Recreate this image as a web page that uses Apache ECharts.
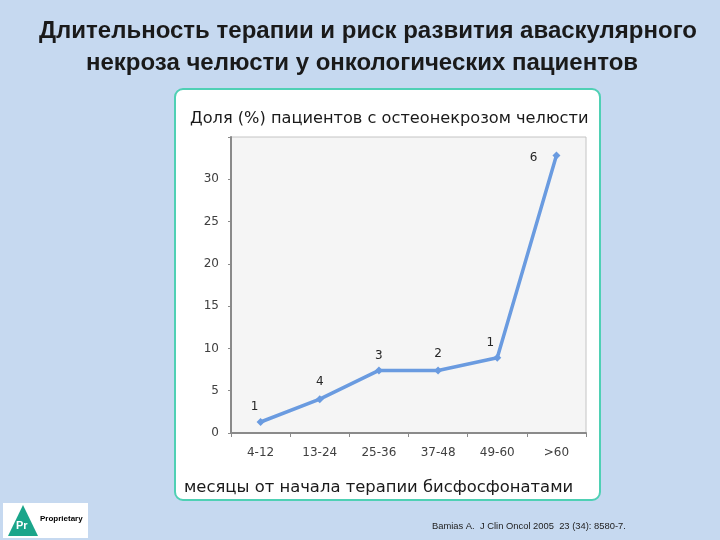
<!DOCTYPE html>
<html><head><meta charset="utf-8">
<script src="https://cdn.jsdelivr.net/npm/echarts@6/dist/echarts.min.js"></script>
<style>html,body{margin:0;padding:0;background:#c6d9f0;}#c{width:720px;height:540px;}</style>
</head><body><div id="c"></div>
<script>
const categories = ['4-12', '13-24', '25-36', '37-48', '49-60', '>60'];
const percentValues = [1.3, 4.0, 7.4, 7.4, 8.9, 32.8];
const patientCounts = ['1', '4', '3', '2', '1', '6'];
const yTicks = [0, 5, 10, 15, 20, 25, 30];

const chart = echarts.init(document.getElementById('c'));
const labelStyle = [
  {position: 'top', offset: [-6, 0]},
  {position: 'top', offset: [0, -2]},
  {position: 'top', offset: [0, 0]},
  {position: 'top', offset: [0, -2]},
  {position: 'top', offset: [-7, 0]},
  {position: 'left', offset: [-10, 2]}
];
const seriesData = percentValues.map((v, i) => ({
  value: v,
  label: Object.assign({show: true, formatter: patientCounts[i]}, labelStyle[i])
}));

const titleFont = {fontFamily: 'Liberation Sans', fontWeight: 'bold', fontSize: 24, color: '#1a1a1a'};

chart.setOption({
  backgroundColor: '#c6d9f0',
  animation: false,
  graphic: [
    {type: 'rect', shape: {x: 175, y: 89, width: 425, height: 411, r: 8},
     style: {fill: '#ffffff', stroke: '#4fd0b4', lineWidth: 2}, z: -10},
    {type: 'rect', shape: {x: 3, y: 503, width: 85, height: 35},
     style: {fill: '#ffffff'}, z: -10},
    {type: 'polygon', shape: {points: [[23, 505], [8, 536], [38, 536]]},
     style: {fill: '#1aa58a'}},
    {type: 'text', style: {x: 16, y: 520, text: 'Pr', fill: '#ffffff', font: 'bold 11px "Liberation Sans"'}},
    {type: 'text', style: {x: 40, y: 515, text: 'Proprietary', fill: '#000000', font: 'bold 8px "Liberation Sans"'}},
    {type: 'text', style: {x: 432, y: 522, text: 'Bamias A.  J Clin Oncol 2005  23 (34): 8580-7.', fill: '#222222', font: '9.4px "Liberation Sans"'}}
  ],
  title: [
    {text: 'Длительность терапии и риск развития аваскулярного',
     left: 363, top: 14, textAlign: 'center', textStyle: titleFont},
    {text: 'некроза челюсти у онкологических пациентов',
     left: 357, top: 46, textAlign: 'center', textStyle: titleFont},
    {text: 'Доля (%) пациентов с остеонекрозом челюсти', left: 185, top: 106,
     textStyle: {fontFamily: 'DejaVu Sans', fontWeight: 'normal', fontSize: 16.2, color: '#1a1a1a'}},
    {text: 'месяцы от начала терапии бисфосфонатами', left: 179, top: 475,
     textStyle: {fontFamily: 'DejaVu Sans', fontWeight: 'normal', fontSize: 16.4, color: '#1a1a1a'}}
  ],
  grid: {left: 231, right: 134, top: 137, bottom: 107, show: true,
         backgroundColor: '#f5f5f5', borderColor: '#c4c4c4', borderWidth: 1},
  xAxis: {
    type: 'category', data: categories, boundaryGap: true,
    axisLine: {lineStyle: {color: '#8a8a8a', width: 2}},
    axisTick: {show: true, length: 4, lineStyle: {color: '#8a8a8a'}},
    axisLabel: {color: '#404040', fontFamily: 'DejaVu Sans', fontSize: 12, margin: 14},
    splitLine: {show: false}
  },
  yAxis: {
    type: 'value', min: 0, max: 35, interval: 5,
    axisLine: {show: true, lineStyle: {color: '#8a8a8a', width: 2}},
    axisTick: {show: true, length: 3, lineStyle: {color: '#8a8a8a'}},
    axisLabel: {color: '#404040', fontFamily: 'DejaVu Sans', fontSize: 12, margin: 12,
      formatter: v => yTicks.includes(v) ? String(v) : ''},
    splitLine: {show: false}
  },
  series: [{
    type: 'line', data: seriesData,
    symbol: 'diamond', symbolSize: 8,
    lineStyle: {color: '#6a9be0', width: 3.5},
    itemStyle: {color: '#6a9be0'},
    label: {color: '#262626', fontFamily: 'DejaVu Sans', fontSize: 12}
  }]
});
</script></body></html>
